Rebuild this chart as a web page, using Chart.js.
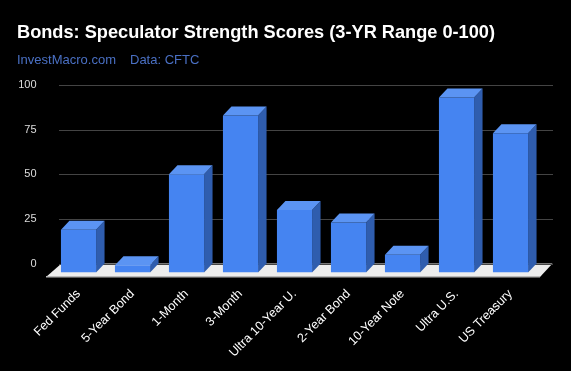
<!DOCTYPE html>
<html>
<head>
<meta charset="utf-8">
<script src="https://cdn.jsdelivr.net/npm/chart.js@4"></script>
<style>
  html, body { margin: 0; padding: 0; background: #000; }
  #wrap { width: 571px; height: 371px; }
</style>
</head>
<body>
<div id="wrap"><canvas id="bondChart" width="571" height="371"></canvas></div>
<script>
// Bonds: speculator strength scores, 3-year range 0-100
const markets = ['Fed Funds', '5-Year Bond', '1-Month', '3-Month', 'Ultra 10-Year U.',
  '2-Year Bond', '10-Year Note', 'Ultra U.S.', 'US Treasury'];
const scores = [24, 4, 55, 88, 35, 28, 10, 98, 78];
const yTicks = [0, 25, 50, 75, 100];

const FONT = "'Liberation Sans', Arial, sans-serif";
const depth = { dx: 8.5, dy: 9 }; // fake 3d offset of the back plane

// black page, title + source line
const header = {
  id: 'header',
  beforeDraw(chart) {
    const ctx = chart.ctx;
    ctx.save();
    ctx.fillStyle = '#000';
    ctx.fillRect(0, 0, chart.width, chart.height);
    ctx.textBaseline = 'alphabetic';
    ctx.fillStyle = '#fff';
    ctx.font = 'bold 18.2px ' + FONT;
    ctx.fillText('Bonds: Speculator Strength Scores (3-YR Range 0-100)', 17, 37.5);
    ctx.fillStyle = '#4a70c4';
    ctx.font = '13px ' + FONT;
    ctx.fillText('InvestMacro.com', 17, 63.5);
    ctx.fillText('Data: CFTC', 130, 63.5);
    ctx.restore();
  }
};

// floor, back-plane gridlines and the side/top faces of each bar
const threeD = {
  id: 'threeD',
  beforeDatasetsDraw(chart) {
    const { ctx, chartArea: a, scales: { y } } = chart;
    ctx.save();
    ctx.fillStyle = '#ededed';
    ctx.beginPath();
    ctx.moveTo(a.left + 10, a.bottom - depth.dy);
    ctx.lineTo(a.right + 15, a.bottom - depth.dy);
    ctx.lineTo(a.right + 2.5, a.bottom + 4.5);
    ctx.lineTo(a.left - 5.5, a.bottom + 4.5);
    ctx.closePath();
    ctx.fill();
    ctx.fillStyle = '#b8b8b8';
    ctx.fillRect(a.left - 5.5, a.bottom + 3.5, a.right - a.left + 8, 1.5);

    ctx.strokeStyle = '#444';
    ctx.lineWidth = 1;
    y.ticks.forEach(t => {
      const py = Math.round(y.getPixelForValue(t.value) - depth.dy) + 0.5;
      ctx.beginPath();
      ctx.moveTo(a.left + 7.5, py);
      ctx.lineTo(a.right + 15.5, py);
      ctx.stroke();
    });
    ctx.restore();
  },
  afterDatasetsDraw(chart) {
    const ctx = chart.ctx;
    const { dx, dy } = depth;
    ctx.save();
    chart.getDatasetMeta(0).data.forEach(bar => {
      const left = bar.x - bar.width / 2, right = bar.x + bar.width / 2;
      ctx.fillStyle = '#2f5dae';
      ctx.beginPath();
      ctx.moveTo(right, bar.y);
      ctx.lineTo(right + dx, bar.y - dy);
      ctx.lineTo(right + dx, bar.base - dy);
      ctx.lineTo(right, bar.base);
      ctx.closePath();
      ctx.fill();
      ctx.fillStyle = '#5b94f3';
      ctx.beginPath();
      ctx.moveTo(left, bar.y);
      ctx.lineTo(left + dx, bar.y - dy);
      ctx.lineTo(right + dx, bar.y - dy);
      ctx.lineTo(right, bar.y);
      ctx.closePath();
      ctx.fill();
    });
    ctx.restore();
  }
};

new Chart(document.getElementById('bondChart'), {
  type: 'bar',
  data: {
    labels: markets,
    datasets: [{
      data: scores,
      backgroundColor: '#4584f1',
      borderWidth: 0,
      categoryPercentage: 1,
      barPercentage: 0.65
    }]
  },
  options: {
    responsive: false,
    animation: false,
    events: [],
    layout: { padding: { left: 0, right: 33.5, top: 94, bottom: 0 } },
    plugins: { legend: { display: false }, tooltip: { enabled: false } },
    scales: {
      x: {
        grid: { display: false, drawTicks: false },
        border: { display: false },
        ticks: {
          color: '#fff',
          font: { family: FONT, size: 12.5 },
          minRotation: 45,
          maxRotation: 45,
          padding: 14,
          autoSkip: false
        },
        afterFit(scale) { scale.height = 98.5; }
      },
      y: {
        min: 0,
        max: 100,
        afterBuildTicks(scale) { scale.ticks = yTicks.map(v => ({ value: v })); },
        grid: { display: false, drawTicks: false },
        border: { display: false },
        ticks: {
          color: '#ddd',
          font: { family: FONT, size: 11 },
          padding: 15,
          labelOffset: -9
        },
        afterFit(scale) { scale.width = 51.5; }
      }
    }
  },
  plugins: [header, threeD]
});
</script>
</body>
</html>
